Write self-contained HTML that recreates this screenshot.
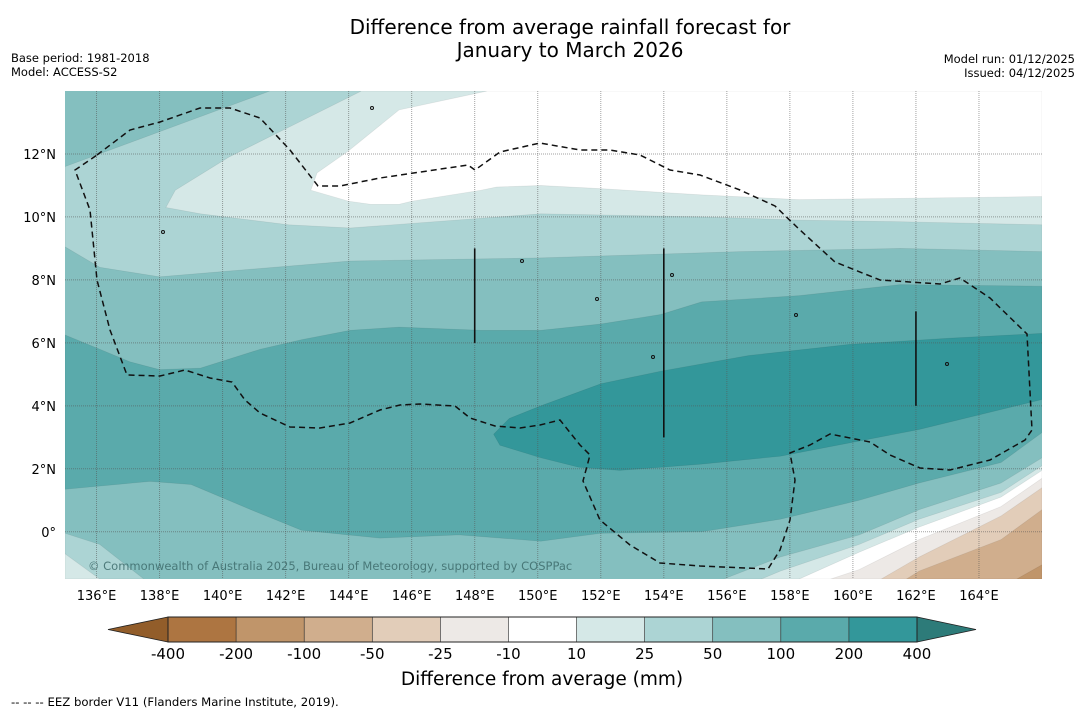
<!DOCTYPE html>
<html><head><meta charset="utf-8">
<style>
body{margin:0;background:#fff;width:1085px;height:713px;overflow:hidden;font-family:"Liberation Sans","DejaVu Sans",sans-serif;}
svg text{font-family:"DejaVu Sans","Liberation Sans",sans-serif;}
</style></head>
<body>
<svg id="chart" width="1085" height="713" viewBox="0 0 1085 713" xmlns="http://www.w3.org/2000/svg">
<text x="570" y="34" font-size="20" text-anchor="middle">Difference from average rainfall forecast for</text>
<text x="570" y="57" font-size="20" text-anchor="middle">January to March 2026</text>
<text x="11" y="62" font-size="11.5">Base period: 1981-2018</text>
<text x="11" y="76" font-size="11.5">Model: ACCESS-S2</text>
<text x="1075" y="63" font-size="11.5" text-anchor="end">Model run: 01/12/2025</text>
<text x="1075" y="77" font-size="11.5" text-anchor="end">Issued: 04/12/2025</text>
<defs><clipPath id="mapclip"><rect x="65" y="91" width="977" height="488"/></clipPath></defs>
<g id="map" clip-path="url(#mapclip)"></g>
<g id="cbar"></g>
<text x="542" y="685" font-size="18.5" text-anchor="middle">Difference from average (mm)</text>
<text x="11" y="706" font-size="11.7">--  --  -- EEZ border V11 (Flanders Marine Institute, 2019).</text>
</svg>
<script>
const NS="http://www.w3.org/2000/svg";
// axis ranges
const lonMin=135, lonMax=166, latMin=-1.5, latMax=14;
const lonTicks=[136,138,140,142,144,146,148,150,152,154,156,158,160,162,164];
const latTicks=[0,2,4,6,8,10,12];
// colorbar
const cbLevels=["-400","-200","-100","-50","-25","-10","10","25","50","100","200","400"];
const cbColors=["#ad7541","#c0956a","#d0ae8d","#e2cdb9","#ede9e6","#ffffff","#d5e8e7","#acd4d4","#84bfbf","#5aaaab","#33979a"];
// contour bands (lon, lat), painted in order
const bandBase="#84bfbf";
const band25top=[[135,11.6],[141.5,14],[166,14],[166,8.9],[161.5,9.0],[156.4,8.9],[150.1,8.7],[144.05,8.6],[138,8.1],[136.1,8.4],[135,9.05]];
const band10top=[[144.4,14],[166,14],[166,9.75],[161.5,9.85],[158.3,9.9],[155.2,10.0],[150.1,10.1],[144.05,9.65],[142.1,9.75],[139.3,10.1],[138.2,10.3],[138.5,10.85],[140.2,11.9]];
const bandWhiteTop=[[148.4,14],[166,14],[166,10.65],[158.3,10.55],[155.2,10.7],[152,10.9],[150.1,11.0],[148.7,10.95],[148.2,10.85],[146,10.5],[145.6,10.4],[144.7,10.4],[144,10.5],[142.8,10.85],[143,11.4],[144,12.1],[145.6,13.4]];
const band100=[[135,6.25],[136.1,5.8],[137.06,5.4],[138,5.15],[139.3,5.2],[141.2,5.8],[142.5,6.1],[144.05,6.4],[145.6,6.5],[148.2,6.4],[150.1,6.4],[152,6.6],[153.9,6.9],[155.2,7.3],[158.3,7.5],[161.5,7.85],[166,7.8],
 [166,3.15],[164.7,2.2],[162.1,1.55],[160.2,1.0],[157.7,0.4],[155.2,0],[152,-0.05],[150.1,-0.3],[147.5,-0.1],[145,-0.2],[142.5,0.05],[140.9,0.7],[139,1.5],[137.7,1.6],[135,1.35]];
const band200=[[148.6,3.1],[149.1,3.6],[150.1,4.0],[152,4.7],[153.9,5.1],[156.7,5.6],[159.9,5.95],[163.1,6.15],[166,6.3],[166,4.2],[162.1,3.25],[157.7,2.4],[155.2,2.15],[152.6,1.95],[151.3,2.05],[150.1,2.35],[148.8,2.75]];
const bandBL25=[[135,-0.05],[136.1,-0.4],[137.5,-1.5],[135,-1.5]];
const bandBL10=[[135,-0.7],[136.1,-1.5],[135,-1.5]];
const brLines=[
 {c:"#acd4d4",p:[[166,2.35],[164.7,1.55],[162.1,0.7],[160.2,-0.1],[157.7,-0.8],[155.9,-1.5]]},
 {c:"#d5e8e7",p:[[166,2.1],[164.7,1.25],[162.1,0.4],[160.2,-0.4],[157.7,-1.25],[157.1,-1.5]]},
 {c:"#ffffff",p:[[166,1.95],[164.7,1.1],[162.1,0.15],[160.2,-0.65],[158.3,-1.5]]},
 {c:"#ede9e6",p:[[166,1.7],[164.7,0.8],[162.1,-0.25],[160.2,-1.2],[159.3,-1.5]]},
 {c:"#e2cdb9",p:[[166,1.4],[164.7,0.5],[162.1,-0.8],[160.9,-1.5]]},
 {c:"#d0ae8d",p:[[166,0.7],[164.7,-0.25],[162.1,-1.25],[161.7,-1.5]]},
 {c:"#c0956a",p:[[166,-1.05],[165.2,-1.5]]}
];
const X0=65,X1=1042,Y0=91,Y1=579;
function px(lon){return X0+(lon-lonMin)/(lonMax-lonMin)*(X1-X0);}
function py(lat){return Y0+(latMax-lat)/(latMax-latMin)*(Y1-Y0);}
function pts(a){return a.map(p=>px(p[0]).toFixed(1)+","+py(p[1]).toFixed(1)).join(" ");}
const map=document.getElementById("map");
function mk(tag,attrs,parent){const e=document.createElementNS(NS,tag);for(const k in attrs)e.setAttribute(k,attrs[k]);(parent||map).appendChild(e);return e;}
let e;
e=mk("rect",{x:X0,y:Y0,width:X1-X0,height:Y1-Y0,fill:bandBase});


const polys=[[band25top,"#acd4d4","band-25-50-north"],[band10top,"#d5e8e7","band-10-25-north"],[bandWhiteTop,"#ffffff","band-neutral-north"],[band100,"#5aaaab","band-100-200"],[band200,"#33979a","band-200-400"],[bandBL25,"#acd4d4","band-25-50-southwest"],[bandBL10,"#d5e8e7","band-10-25-southwest"]];
polys.forEach(b=>{
 e=mk("polygon",{points:pts(b[0]),fill:b[1],stroke:"#000","stroke-opacity":"0.08","stroke-width":"0.7"});
 
 
});
brLines.forEach((b,i)=>{
 const a=b.p.concat([[lonMax,latMin]]);
 e=mk("polygon",{points:pts(a),fill:b.c,stroke:"#000","stroke-opacity":"0.08","stroke-width":"0.7"});
 
 
});
// gridlines
lonTicks.forEach(l=>{
 e=mk("line",{x1:px(l),x2:px(l),y1:Y0,y2:Y1,stroke:"#555","stroke-opacity":"0.55","stroke-width":"1","stroke-dasharray":"1,1"});
 
 
 e=mk("text",{x:px(l),y:600,"font-size":"13","text-anchor":"middle"},document.getElementById("chart"));
 e.textContent=l+"°E";
 
 
});
latTicks.forEach(l=>{
 e=mk("line",{x1:X0,x2:X1,y1:py(l),y2:py(l),stroke:"#555","stroke-opacity":"0.55","stroke-width":"1","stroke-dasharray":"1,1"});
 
 
 e=mk("text",{x:56,y:py(l)+5,"font-size":"13","text-anchor":"end"},document.getElementById("chart"));
 e.textContent=l===0?"0°":l+"°N";
 
 
});
// vertical black lines
[[148,9,6],[154,9,3],[162,7,4]].forEach(v=>{
 e=mk("line",{x1:px(v[0]),x2:px(v[0]),y1:py(v[1]),y2:py(v[2]),stroke:"#111","stroke-width":"1.6"});
 
 
});
// EEZ border
e=mk("path",{d:"M97,155 L130,130 L160,122 L200,108 L230,108 L260,118 L290,150 L318,186 L340,186 L380,178 L468,165 L475,170 L500,152 L540,143 L580,150 L610,150 L640,155 L670,170 L700,175 L740,190 L775,206 L800,230 L835,262 L880,280 L940,284 L960,278 L990,298 L1027,334 L1032,430 L1025,440 L990,460 L950,470 L920,468 L890,455 L870,442 L830,434 L810,445 L790,453 L795,480 L790,520 L780,550 L768,569 L700,566 L660,563 L630,545 L600,520 L583,481 L590,455 L580,445 L560,420 L540,425 L520,428 L495,426 L470,418 L455,406 L420,404 L400,405 L380,410 L350,423 L320,428 L290,427 L260,413 L245,400 L232,382 L210,378 L185,370 L160,376 L127,375 L110,330 L97,280 L90,210 L75,170 Z",fill:"none",stroke:"#111","stroke-width":"1.5","stroke-dasharray":"6,4"});


// small islands
[[372,108],[163,232],[597,299],[796,315],[947,364],[672,275],[653,357],[522,261]].forEach(p=>{
 e=mk("circle",{cx:p[0],cy:p[1],r:"1.5",fill:"none",stroke:"#111","stroke-width":"1"});
 
 
});
e=mk("text",{x:88,y:570,"font-size":"11.5",fill:"#3d6b6b","fill-opacity":"0.85"});
e.textContent="© Commonwealth of Australia 2025, Bureau of Meteorology, supported by COSPPac";


// colorbar
const cb=document.getElementById("cbar");
const cbX0=168,cbX1=917,cbY=617,cbH=25;
const segW=(cbX1-cbX0)/cbColors.length;
e=mk("polygon",{points:`${cbX0},${cbY} ${cbX0},${cbY+cbH} 108,${cbY+cbH/2}`,fill:"#925d2a",stroke:"#222","stroke-width":"0.8"},cb);


e=mk("polygon",{points:`${cbX1},${cbY} ${cbX1},${cbY+cbH} 976,${cbY+cbH/2}`,fill:"#2d7b79",stroke:"#222","stroke-width":"0.8"},cb);


cbColors.forEach((c,i)=>{
 e=mk("rect",{x:cbX0+i*segW,y:cbY,width:segW,height:cbH,fill:c},cb);
 
 
});
e=mk("rect",{x:cbX0,y:cbY,width:cbX1-cbX0,height:cbH,fill:"none",stroke:"#222","stroke-width":"1"},cb);
cbLevels.forEach((l,i)=>{
 const x=cbX0+i*segW;
 e=mk("line",{x1:x,x2:x,y1:cbY,y2:cbY+cbH,stroke:"#222","stroke-width":"0.6"},cb);
 e=mk("text",{x:x,y:cbY+42,"font-size":"15","text-anchor":"middle"},cb);
 e.textContent=l;
 
 
});
</script>
</body></html>
